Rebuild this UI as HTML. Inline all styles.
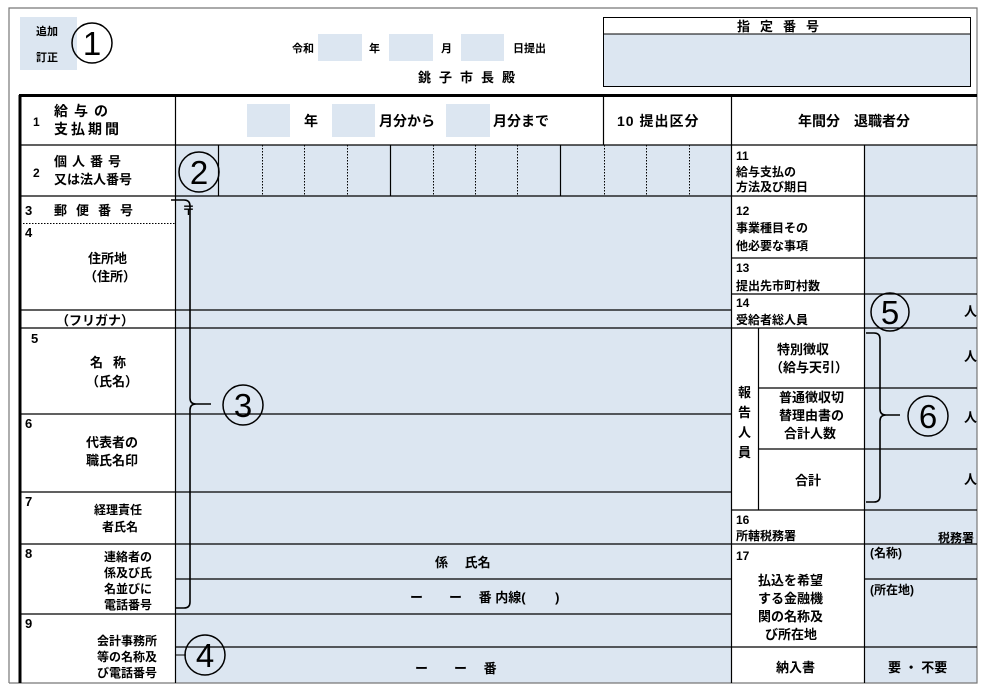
<!DOCTYPE html>
<html><head><meta charset="utf-8">
<style>
html,body{margin:0;padding:0;background:#fff;}
svg{display:block;}
text{font-family:"Liberation Sans","Noto Sans CJK JP",sans-serif;font-weight:bold;fill:#000;}
.c{font-family:"Liberation Sans",sans-serif;font-weight:normal;font-size:33px;}
</style></head>
<body>
<svg width="988" height="692" viewBox="0 0 988 692" xmlns="http://www.w3.org/2000/svg">
<rect width="988" height="692" fill="#fff"/>
<!-- blue fills -->
<g fill="#dce6f1">
<rect x="20" y="17" width="57" height="53"/>
<rect x="318" y="34" width="44" height="27"/>
<rect x="389" y="34" width="44" height="27"/>
<rect x="461" y="34" width="43" height="27"/>
<rect x="604" y="34" width="366" height="52"/>
<rect x="247" y="104" width="43" height="33"/>
<rect x="332" y="104" width="43" height="33"/>
<rect x="446" y="104" width="44" height="33"/>
<rect x="176" y="145" width="555" height="51"/>
<rect x="176" y="196" width="555" height="487"/>
<rect x="864" y="145" width="113" height="538"/>
</g>
<!-- outer grey frame -->
<path d="M9 683 V8 H977 V683 H9" fill="none" stroke="#777" stroke-width="1.2"/>
<!-- top designated number box -->
<rect x="603.5" y="17.5" width="367" height="69" fill="none" stroke="#000" stroke-width="1"/>
<line x1="604" y1="34" x2="970" y2="34" stroke="#000"/>
<!-- thick lines -->
<line x1="20" y1="95" x2="20" y2="683" stroke="#000" stroke-width="3"/>
<line x1="19" y1="95.5" x2="977" y2="95.5" stroke="#000" stroke-width="3"/>
<g stroke="#000" stroke-width="1.2" fill="none">
<line x1="175.5" y1="95" x2="175.5" y2="683"/>
<line x1="603.5" y1="95" x2="603.5" y2="145"/>
<line x1="731.5" y1="95" x2="731.5" y2="683"/>
<line x1="864.5" y1="145" x2="864.5" y2="683"/>
<line x1="20" y1="145" x2="977" y2="145"/>
<line x1="20" y1="196" x2="977" y2="196"/>
<line x1="731" y1="258" x2="977" y2="258"/>
<line x1="731" y1="294" x2="977" y2="294"/>
<line x1="20" y1="310" x2="731" y2="310"/>
<line x1="20" y1="328" x2="977" y2="328"/>
<line x1="758.5" y1="328" x2="758.5" y2="510"/>
<line x1="758" y1="388" x2="977" y2="388"/>
<line x1="758" y1="449" x2="977" y2="449"/>
<line x1="731" y1="510" x2="977" y2="510"/>
<line x1="20" y1="414" x2="731" y2="414"/>
<line x1="20" y1="492" x2="731" y2="492"/>
<line x1="20" y1="544" x2="977" y2="544"/>
<line x1="176" y1="579" x2="731" y2="579"/>
<line x1="864" y1="579" x2="977" y2="579"/>
<line x1="20" y1="614" x2="731" y2="614"/>
<line x1="176" y1="647" x2="977" y2="647"/>
<!-- digit cells solid -->
<line x1="218.5" y1="145" x2="218.5" y2="196"/>
<line x1="390.5" y1="145" x2="390.5" y2="196"/>
<line x1="560.5" y1="145" x2="560.5" y2="196"/>
</g>
<g stroke="#000" stroke-width="1" stroke-dasharray="1.5,1.5">
<line x1="262.5" y1="145" x2="262.5" y2="196"/>
<line x1="304.5" y1="145" x2="304.5" y2="196"/>
<line x1="347.5" y1="145" x2="347.5" y2="196"/>
<line x1="433.5" y1="145" x2="433.5" y2="196"/>
<line x1="475.5" y1="145" x2="475.5" y2="196"/>
<line x1="517.5" y1="145" x2="517.5" y2="196"/>
<line x1="604.5" y1="145" x2="604.5" y2="196"/>
<line x1="646.5" y1="145" x2="646.5" y2="196"/>
<line x1="689.5" y1="145" x2="689.5" y2="196"/>
<line x1="20" y1="223.5" x2="175" y2="223.5"/>
</g>
<!-- brackets -->
<g stroke="#000" stroke-width="1.6" fill="none">
<path d="M171 200 H184 Q190 200 190 206 V398 Q190 404 196 404 H211 M196 404 Q190 404 190 410 V602 Q190 608 184 608 H176"/>
<path d="M866 333 H874 Q880 333 880 339 V409 Q880 415 886 415 H900 M886 415 Q880 415 880 421 V496 Q880 502 874 502 H866"/>
</g>
<line x1="176" y1="655" x2="186" y2="655" stroke="#000"/>
<!-- circled numbers -->
<g fill="none" stroke="#000" stroke-width="1.5">
<circle cx="92" cy="43" r="20"/>
<circle cx="199" cy="172" r="20"/>
<circle cx="243" cy="405" r="20"/>
<circle cx="205" cy="655" r="20"/>
<circle cx="890" cy="312" r="19"/>
<circle cx="928" cy="416" r="20"/>
</g>
<text class="c" x="92" y="55" text-anchor="middle">1</text>
<text class="c" x="199" y="184" text-anchor="middle">2</text>
<text class="c" x="243" y="417" text-anchor="middle">3</text>
<text class="c" x="205" y="667" text-anchor="middle">4</text>
<text class="c" x="890" y="324" text-anchor="middle">5</text>
<text class="c" x="928" y="428" text-anchor="middle">6</text>
<!-- top texts -->
<g font-size="11">
<text x="36" y="35">追加</text>
<text x="36" y="61">訂正</text>
<text x="292" y="52">令和</text>
<text x="369" y="52">年</text>
<text x="441" y="52">月</text>
<text x="513" y="52">日提出</text>
</g>
<text x="418" y="82" font-size="13" letter-spacing="8">銚子市長殿</text>
<text x="737" y="31" font-size="13" letter-spacing="10">指定番号</text>
<!-- row 1 -->
<text x="33" y="126" font-size="12">1</text>
<text x="54" y="116" font-size="14" letter-spacing="6">給与の</text>
<text x="54" y="134" font-size="14" letter-spacing="3">支払期間</text>
<g font-size="14">
<text x="304" y="126">年</text>
<text x="379" y="126">月分から</text>
<text x="493" y="126">月分まで</text>
<text x="617" y="126" letter-spacing="1">10 提出区分</text>
<text x="798" y="126">年間分　退職者分</text>
</g>
<!-- row 2 -->
<text x="33" y="177" font-size="12">2</text>
<text x="54" y="166" font-size="13" letter-spacing="5">個人番号</text>
<text x="54" y="184" font-size="13">又は法人番号</text>
<g font-size="12">
<text x="736" y="160">11</text>
<text x="736" y="176">給与支払の</text>
<text x="736" y="191">方法及び期日</text>
<text x="736" y="215">12</text>
<text x="736" y="232">事業種目その</text>
<text x="736" y="250">他必要な事項</text>
<text x="736" y="272">13</text>
<text x="736" y="290">提出先市町村数</text>
<text x="736" y="307">14</text>
<text x="736" y="324">受給者総人員</text>
<text x="736" y="524">16</text>
<text x="736" y="540">所轄税務署</text>
<text x="938" y="542">税務署</text>
<text x="736" y="560">17</text>
<text x="870" y="557">(名称)</text>
<text x="870" y="594">(所在地)</text>
</g>
<g font-size="13">
<text x="25" y="215">3</text>
<text x="54" y="215" letter-spacing="9">郵便番号</text>
<text x="182" y="215" font-weight="normal">〒</text>
<text x="25" y="237">4</text>
<text x="88" y="263">住所地</text>
<text x="84" y="281">（住所）</text>
<text x="56" y="325">（フリガナ）</text>
<text x="31" y="343">5</text>
<text x="90" y="367" letter-spacing="10">名称</text>
<text x="86" y="386">（氏名）</text>
<text x="25" y="428">6</text>
<text x="86" y="447">代表者の</text>
<text x="86" y="465">職氏名印</text>
<text x="25" y="506">7</text>
<text x="94" y="514" font-size="12">経理責任</text>
<text x="102" y="531" font-size="12">者氏名</text>
<text x="25" y="558">8</text>
<text x="104" y="561" font-size="12">連絡者の</text>
<text x="104" y="577" font-size="12">係及び氏</text>
<text x="104" y="593" font-size="12">名並びに</text>
<text x="104" y="609" font-size="12">電話番号</text>
<text x="25" y="628">9</text>
<text x="97" y="645" font-size="12">会計事務所</text>
<text x="97" y="661" font-size="12">等の名称及</text>
<text x="97" y="677" font-size="12">び電話番号</text>
<text x="435" y="567">係　 氏名</text>
<text x="410" y="602">ー　　ー　 番 内線(　 　)</text>
<text x="415" y="673">ー　　ー　 番</text>
<text x="777" y="354">特別徴収</text>
<text x="770" y="372">（給与天引）</text>
<text x="779" y="402">普通徴収切</text>
<text x="779" y="420">替理由書の</text>
<text x="784" y="438">合計人数</text>
<text x="795" y="485">合計</text>
<text x="738" y="397">報</text>
<text x="738" y="417">告</text>
<text x="738" y="437">人</text>
<text x="738" y="457">員</text>
<text x="758" y="585">払込を希望</text>
<text x="758" y="603">する金融機</text>
<text x="758" y="621">関の名称及</text>
<text x="765" y="639">び所在地</text>
<text x="776" y="672">納入書</text>
<text x="888" y="672">要 ・ 不要</text>
<text x="964" y="316">人</text>
<text x="964" y="361">人</text>
<text x="964" y="422">人</text>
<text x="964" y="484">人</text>
</g>
</svg>
</body></html>
